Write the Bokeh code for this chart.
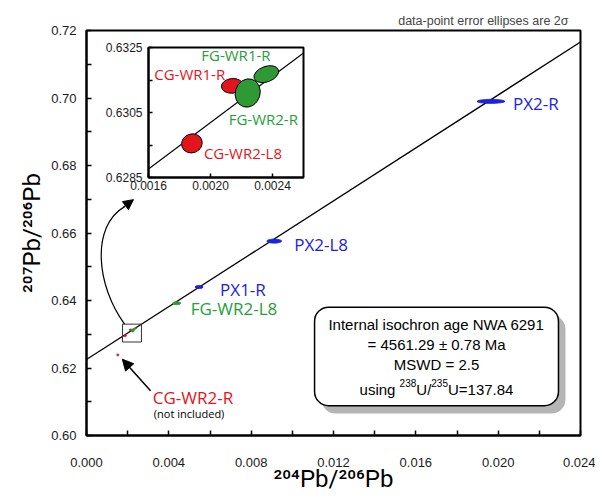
import math
from bokeh.plotting import figure
from bokeh.models import (FixedTicker, PrintfTickFormatter, Label, Arrow, NormalHead,
                          GridBox, ColumnDataSource)
from bokeh.embed import file_html
from bokeh.resources import INLINE

# ---------------- data ----------------
samples = ["CG-WR2-R", "CG-WR2-L8", "CG-WR1-R", "FG-WR2-R", "FG-WR1-R",
           "FG-WR2-L8", "PX1-R", "PX2-L8", "PX2-R"]
groups = ["CG", "CG", "CG", "FG", "FG", "FG", "PX", "PX", "PX"]
pb204_206 = [0.00152, 0.00188, 0.00214, 0.00224, 0.00236, 0.00438, 0.00547, 0.00912, 0.01965]
pb207_206 = [0.62388, 0.62955, 0.63132, 0.63110, 0.63168, 0.63920, 0.64400, 0.65760, 0.69900]
err_x = [0.00010, 0.000135, 0.00014, 0.00016, 0.000166, 0.00039, 0.00039, 0.00073, 0.00136]
err_y = [0.00060, 0.00058, 0.00045, 0.00088, 0.000475, 0.00090, 0.00090, 0.00120, 0.00120]
err_angle = [0.0, 0.35, 0.1, -0.3, 0.35, 0.0, 0.0, 0.0, 0.0]

iso_intercept = 0.6225
iso_slope = 3.92
inset_iso_intercept = 0.62305
inset_iso_slope = 3.57

x_ticks = [0.000, 0.004, 0.008, 0.012, 0.016, 0.020, 0.024]
x_minor = [0.002, 0.006, 0.010, 0.014, 0.018, 0.022]
y_ticks = [0.60, 0.62, 0.64, 0.66, 0.68, 0.70, 0.72]
y_minor = [0.61, 0.63, 0.65, 0.67, 0.69, 0.71]
inset_x_ticks = [0.0016, 0.0020, 0.0024]
inset_y_ticks = [0.6285, 0.6305, 0.6325]
inset_y_minor = [0.6295, 0.6315]

x_title = "\u00b2\u2070\u2074Pb/\u00b2\u2070\u2076Pb"
y_title = "\u00b2\u2070\u2077Pb/\u00b2\u2070\u2076Pb"
note = "data-point error ellipses are 2\u03c3"
age_lines = ["Internal isochron age NWA 6291", "= 4561.29 \u00b1 0.78 Ma", "MSWD = 2.5"]

# ---------------- styles ----------------
RED = "#e3141b"
GREEN = "#2f9a35"
GREEN_T = "#25a03a"
BLUE = "#1c22dc"
colors = {"CG": RED, "FG": GREEN, "PX": BLUE}
tcolors = {"CG": RED, "FG": GREEN_T, "PX": BLUE}
AX_FONT = "Liberation Sans"
TITLE_FONT = "Roboto"
LB_FONT = "Open Sans"

src = ColumnDataSource(dict(
    x=pb204_206, y=pb207_206, w=err_x, h=err_y, a=err_angle,
    c=[colors[g] for g in groups], name=samples))

X0, X1, Y0, Y1 = 0.0, 0.024, 0.60, 0.72

p = figure(width=587, height=488, x_range=(X0, X1), y_range=(Y0, Y1),
           output_backend="svg", toolbar_location=None,
           min_border_left=78, min_border_right=15, min_border_top=20, min_border_bottom=61)
p.margin = (8, 0, 0, 8)
p.xgrid.visible = False
p.ygrid.visible = False
p.outline_line_color = "black"
p.outline_line_width = 2
p.outline_line_alpha = 1

p.title.text = note
p.title.align = "right"
p.title.offset = 12
p.title.text_font = AX_FONT
p.title.text_font_size = "12.5px"
p.title.text_font_style = "normal"
p.title.standoff = 6

p.xaxis.ticker = FixedTicker(ticks=x_ticks, minor_ticks=x_minor)
p.yaxis.ticker = FixedTicker(ticks=y_ticks, minor_ticks=y_minor)
p.xaxis.formatter = PrintfTickFormatter(format="%.3f")
p.yaxis.formatter = PrintfTickFormatter(format="%.2f")
for ax in (p.xaxis, p.yaxis):
    ax.axis_line_width = 2
    ax.axis_line_color = "black"
    ax.major_tick_in = 5
    ax.major_tick_out = 0
    ax.minor_tick_in = 5
    ax.minor_tick_out = 0
    ax.major_tick_line_width = 1.5
    ax.minor_tick_line_width = 1.5
    ax.major_tick_line_color = "black"
    ax.minor_tick_line_color = "black"
    ax.major_label_text_font = AX_FONT
    ax.major_label_text_font_size = "13px"
    ax.major_label_text_color = "#1a1a1a"
    ax.axis_label_text_font = TITLE_FONT
    ax.axis_label_text_font_size = "24px"
    ax.axis_label_text_font_style = "normal"
    ax.axis_label_text_color = "black"
p.xaxis.major_label_standoff = 22
p.yaxis.major_label_standoff = 10
p.xaxis.axis_label = x_title
p.yaxis.axis_label = y_title
p.xaxis.axis_label_standoff = -5
p.yaxis.axis_label_standoff = 2

# isochron
p.line([X0, X1], [iso_intercept + iso_slope * X0, iso_intercept + iso_slope * X1],
       line_color="black", line_width=1.3)

# ellipses
p.ellipse(x="x", y="y", width="w", height="h", angle="a", source=src,
          fill_color="c", line_color="c", line_width=0.8)

# zoom box
p.quad(left=[0.00175], right=[0.00267], bottom=[0.6277], top=[0.6330],
       fill_color=None, line_color="#333333", line_width=1)

# labels for main plot
main_lab = {"PX2-R": (22, -2), "PX2-L8": (20, -3), "PX1-R": (21, -2),
            "FG-WR2-L8": (14, -5), "CG-WR2-R": (35, -43)}
for i, s in enumerate(samples):
    if s in main_lab:
        dx, dy = main_lab[s]
        p.add_layout(Label(x=pb204_206[i], y=pb207_206[i], x_offset=dx, y_offset=dy,
                           text=s, text_color=tcolors[groups[i]], text_font=LB_FONT,
                           text_font_size="17px", text_baseline="middle", text_align="left"))
i_ex = samples.index("CG-WR2-R")
p.add_layout(Label(x=pb204_206[i_ex], y=pb207_206[i_ex], x_offset=36, y_offset=-59,
                   text="(not included)", text_color="black", text_font=LB_FONT,
                   text_font_size="11px", text_baseline="middle", text_align="left"))

# arrows
p.add_layout(Arrow(end=NormalHead(size=11, fill_color="black", line_color="black"),
                   x_start=0.00311, y_start=0.61327, x_end=0.00174, y_end=0.62261,
                   line_width=1.5, line_color="black"))
p.bezier(x0=[0.00185], y0=[0.63302], x1=[0.00185], y1=[0.66781],
         cx0=[0.00049], cy0=[0.64423], cx1=[0.00019], cy1=[0.66192],
         line_color="black", line_width=1.2)
p.add_layout(Arrow(end=NormalHead(size=10, fill_color="black", line_color="black"),
                   x_start=0.00180, y_start=0.66770, x_end=0.00228, y_end=0.66988,
                   line_width=1.2, line_color="black"))

# age box with shadow
bl, br, bt, bb = 0.01108, 0.02293, 0.63803, 0.60885
p.quad(left=[bl + 0.00034], right=[br + 0.00034], top=[bt - 0.00236], bottom=[bb - 0.00236],
       fill_color="#b5b5b5", line_color=None, border_radius=14)
p.quad(left=[bl], right=[br], top=[bt], bottom=[bb],
       fill_color="white", line_color="black", line_width=1.5, border_radius=14)
bcx = (bl + br) / 2
for k, t in enumerate(age_lines):
    p.add_layout(Label(x=bcx, y=bt, y_offset=-17 - 20 * k, text=t, text_font=AX_FONT,
                       text_font_size="15px", text_align="center", text_baseline="middle",
                       text_color="black"))
pieces = [("using ", 15, 0), ("238", 10, 6), ("U/", 15, 0), ("235", 10, 6), ("U=137.84", 15, 0)]
adv = {"using ": 2.668, "238": 1.668, "U/": 1.0, "235": 1.668, "U=137.84": 4.364}
tot = sum(adv[t] * fs for t, fs, _ in pieces)
xo = -tot / 2
for t, fs, rise in pieces:
    p.add_layout(Label(x=bcx, y=bt, x_offset=xo, y_offset=-82 + rise, text=t, text_font=AX_FONT,
                       text_font_size=f"{fs}px", text_align="left", text_baseline="alphabetic",
                       text_color="black"))
    xo += adv[t] * fs

# ---------------- inset ----------------
IX0, IX1, IY0, IY1 = 0.0016, 0.0026, 0.6285, 0.6325
# frame borders get aligned with the main plot inside the grid cell (78/15/20/61)
inset = figure(width=78 + 155 + 15, height=20 + 132 + 61, x_range=(IX0, IX1), y_range=(IY0, IY1),
               output_backend="svg", toolbar_location=None,
               min_border_left=78, min_border_right=15, min_border_top=20, min_border_bottom=61)
inset.margin = (25, 0, 0, 70)
inset.border_fill_alpha = 0
inset.background_fill_color = "white"
inset.xgrid.visible = False
inset.ygrid.visible = False
inset.outline_line_color = "black"
inset.outline_line_width = 2
inset.outline_line_alpha = 1
inset.xaxis.ticker = FixedTicker(ticks=inset_x_ticks)
inset.yaxis.ticker = FixedTicker(ticks=inset_y_ticks, minor_ticks=inset_y_minor)
inset.xaxis.formatter = PrintfTickFormatter(format="%.4f")
inset.yaxis.formatter = PrintfTickFormatter(format="%.4f")
for ax in (inset.xaxis, inset.yaxis):
    ax.axis_line_width = 2
    ax.major_tick_in = 4
    ax.major_tick_out = 0
    ax.minor_tick_in = 4
    ax.minor_tick_out = 0
    ax.major_tick_line_width = 1.5
    ax.minor_tick_line_width = 1.5
    ax.major_label_text_font = AX_FONT
    ax.major_label_text_font_size = "12px"
    ax.major_label_text_color = "#1a1a1a"
inset.xaxis.major_label_standoff = 3
inset.yaxis.major_label_standoff = 6

xe = (IY1 - inset_iso_intercept) / inset_iso_slope
xe = min(xe, IX1)
inset.line([IX0, xe], [inset_iso_intercept + inset_iso_slope * IX0,
                       inset_iso_intercept + inset_iso_slope * xe],
           line_color="black", line_width=1.1)
inset.ellipse(x="x", y="y", width="w", height="h", angle="a", source=src,
              fill_color="c", line_color="black", line_width=1)

inset_lab = {"FG-WR1-R": (-65, 19), "CG-WR1-R": (-78, 12), "FG-WR2-R": (-19, -26),
             "CG-WR2-L8": (12, -10)}
for i, s in enumerate(samples):
    if s in inset_lab:
        dx, dy = inset_lab[s]
        inset.add_layout(Label(x=pb204_206[i], y=pb207_206[i], x_offset=dx, y_offset=dy,
                               text=s, text_color=tcolors[groups[i]], text_font=LB_FONT,
                               text_font_size="15px", text_baseline="middle", text_align="left"))

layout = GridBox(children=[(p, 0, 0), (inset, 0, 0)])
open("out.html", "w").write(file_html(layout, INLINE))
